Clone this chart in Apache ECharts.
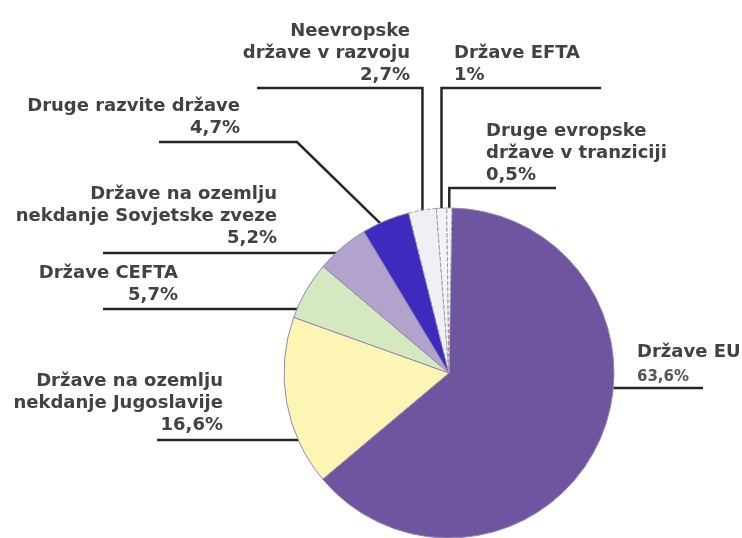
<!DOCTYPE html>
<html>
<head>
<meta charset="utf-8">
<script src="https://cdn.jsdelivr.net/npm/echarts@6/dist/echarts.min.js"></script>
<style>
  html, body { margin: 0; padding: 0; background: #fff; }
  #chart { width: 742px; height: 538px; }
</style>
</head>
<body>
<div id="chart"></div>
<script>
// izvoz po skupinah držav (delež v %)
const names = [
  'Države EU',
  'Države na ozemlju\nnekdanje Jugoslavije',
  'Države CEFTA',
  'Države na ozemlju\nnekdanje Sovjetske zveze',
  'Druge razvite države',
  'Neevropske\ndržave v razvoju',
  'Države EFTA',
  'Druge evropske\ndržave v tranziciji'
]
const shares = [63.6, 16.6, 5.7, 5.2, 4.7, 2.7, 1, 0.5]
const colors = ['#6f55a0', '#fdf5b4', '#d5e9c1', '#b1a3cb', '#3d2bbd', '#f0f0f4', '#f3f3f6', '#f5f5f8']

const CX = 449
const CY = 373
const R = 165

// where each label sits and how its leader line runs
const labelPos = [
  { kind: 'h', side: 1, x: 637, y: 391, align: 'left', lineY: 388, end: 703 },
  { kind: 'h', side: -1, x: 223, y: 436, align: 'right', lineY: 440, end: 157 },
  { kind: 'h', side: -1, x: 178, y: 306, align: 'right', lineY: 309, end: 103 },
  { kind: 'h', side: -1, x: 277, y: 249, align: 'right', lineY: 253, end: 103 },
  { kind: 'd', x: 240, y: 139, align: 'right', elbow: [297, 142], end: 159 },
  { kind: 'v', x: 410, y: 86, align: 'right', lineY: 88, end: 257 },
  { kind: 'v', x: 454, y: 86, align: 'left', lineY: 88, end: 601 },
  { kind: 'v', x: 486, y: 186, align: 'left', lineY: 188, end: 556 }
]

const fmtShare = (v) => String(v).replace('.', ',') + '%'

const chart = echarts.init(document.getElementById('chart'))

chart.setOption({
  backgroundColor: '#fff',
  animation: false,
  textStyle: { fontFamily: '"DejaVu Sans", Verdana, sans-serif' },
  series: [
    {
      type: 'pie',
      center: [CX, CY],
      radius: R,
      startAngle: 89,
      clockwise: true,
      avoidLabelOverlap: false,
      data: names.map((name, i) => ({
        name,
        value: shares[i],
        itemStyle: {
          color: colors[i],
          borderColor: i >= 5 ? '#9a9aa6' : '#9489b4',
          borderWidth: 1,
          borderType: i >= 5 ? 'dashed' : 'solid'
        }
      })),
      label: {
        show: true,
        position: 'outside',
        color: '#424242',
        fontSize: 18,
        fontWeight: 'bold',
        lineHeight: 22,
        formatter: (p) => p.dataIndex === 0
          ? p.name + '\n{s|' + fmtShare(p.value) + '}'
          : p.name + '\n' + fmtShare(p.value),
        rich: {
          s: { fontSize: 15, fontWeight: 'bold', color: '#555', lineHeight: 28 }
        }
      },
      labelLine: {
        show: true,
        length: 10,
        length2: 10,
        lineStyle: { color: '#262626', width: 2.5 }
      },
      labelLayout: (p) => {
        const s = labelPos[p.dataIndex]
        const a = p.labelLinePoints ? p.labelLinePoints[0] : [CX, CY - R]
        let pts
        if (s.kind === 'h') {
          const dy = s.lineY - CY
          const ex = CX + s.side * Math.sqrt(R * R - dy * dy)
          pts = [[ex - s.side * 6, s.lineY], [ex, s.lineY], [s.end, s.lineY]]
        } else if (s.kind === 'v') {
          pts = [[a[0], a[1] + 8], [a[0], s.lineY], [s.end, s.lineY]]
        } else {
          pts = [[a[0] - 2, a[1] + 6], s.elbow, [s.end, s.elbow[1]]]
        }
        return {
          x: s.x,
          y: s.y,
          align: s.align,
          verticalAlign: 'bottom',
          labelLinePoints: pts
        }
      }
    }
  ]
})
</script>
</body>
</html>
